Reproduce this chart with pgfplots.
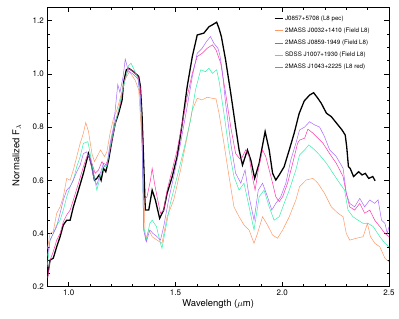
\documentclass[border=0pt]{standalone}
\usepackage{fontspec}
\setmainfont{TeX Gyre Heros}
\usepackage{pgfplots}
\pgfplotsset{compat=1.18}
\usetikzlibrary{calc}
\definecolor{corange}{HTML}{FF9966}
\definecolor{cpink}{HTML}{FF33AA}
\definecolor{cgreen}{HTML}{33EEAA}
\definecolor{cpurple}{HTML}{AA66FF}
\begin{document}
\begin{tikzpicture}
\begin{axis}[
  scale only axis,
  width=341.7bp, height=279.4bp,
  xmin=0.9, xmax=2.5, ymin=0.2, ymax=1.25,
  xtick={1.0,1.5,2.0,2.5}, minor x tick num=4,
  ytick={0.2,0.4,0.6,0.8,1.0,1.2}, minor y tick num=3,
  tick align=inside,
  major tick length=5bp, minor tick length=2.5bp,
  every tick/.style={black, line width=0.5pt},
  axis line style={line width=0.6pt},
  tick label style={font=\fontsize{8}{9}\selectfont},
  /pgf/number format/assume math mode=true,
  xticklabel style={/pgf/number format/.cd, fixed, fixed zerofill, precision=1},
  yticklabel style={/pgf/number format/.cd, fixed, fixed zerofill, precision=1},
  xlabel={Wavelength ($\mu$m)},
  ylabel={Normalized F$_\lambda$},
  label style={font=\fontsize{9.5}{11}\selectfont},
  xlabel style={at={(axis description cs:0.5,-0.062)}, anchor=center},
  ylabel style={at={(axis description cs:-0.0896,0.47)}, anchor=center},
  legend style={draw=none, fill=none, at={(rel axis cs:0.664,0.978)}, anchor=north west,
    font=\fontsize{6.2}{7}\selectfont, row sep=2.1pt, inner sep=0pt},
  legend cell align=left,
  legend image code/.code={\draw[#1, line width=0.7pt] (0bp,0bp) -- (8bp,0bp);},
]
\addplot[black, line width=1.3pt] coordinates {
(0.900,0.235) (0.913,0.300) (0.928,0.307) (0.944,0.350) (0.960,0.388) (0.975,0.432)
(0.991,0.450) (1.007,0.450) (1.022,0.500) (1.046,0.563) (1.069,0.626) (1.085,0.676)
(1.093,0.700) (1.109,0.650) (1.121,0.600) (1.132,0.607) (1.143,0.620) (1.152,0.600)
(1.163,0.645) (1.174,0.632) (1.187,0.676) (1.203,0.751) (1.218,0.814) (1.234,0.852)
(1.250,0.900) (1.258,0.970) (1.270,1.015) (1.281,1.021) (1.304,1.008) (1.328,0.990)
(1.336,0.952) (1.344,0.839) (1.351,0.676) (1.359,0.488) (1.375,0.488) (1.391,0.563)
(1.406,0.526) (1.426,0.457) (1.445,0.488) (1.461,0.551) (1.485,0.614) (1.508,0.689)
(1.532,0.814) (1.555,0.952) (1.579,1.065) (1.602,1.146) (1.620,1.150) (1.633,1.153)
(1.657,1.177) (1.673,1.184) (1.693,1.194) (1.704,1.171) (1.715,1.140) (1.735,1.052)
(1.759,0.927) (1.782,0.800) (1.798,0.714) (1.814,0.657) (1.837,0.714) (1.853,0.676)
(1.871,0.607) (1.892,0.664) (1.920,0.783) (1.939,0.714) (1.955,0.626) (1.970,0.601)
(1.986,0.620) (2.009,0.651) (2.033,0.714) (2.056,0.777) (2.079,0.850) (2.103,0.898)
(2.128,0.920) (2.147,0.929) (2.167,0.908) (2.183,0.889) (2.207,0.852) (2.230,0.839)
(2.255,0.814) (2.280,0.789) (2.295,0.770) (2.302,0.726) (2.310,0.651) (2.318,0.645)
(2.334,0.614) (2.358,0.632) (2.374,0.620) (2.389,0.626) (2.405,0.607) (2.424,0.614)
(2.435,0.598)};
\addlegendentry{J0857+5708 (L8 pec)}
\addplot[corange, line width=0.5pt] coordinates {
(0.900,0.340) (0.913,0.400) (0.928,0.407) (0.944,0.476) (0.960,0.500) (0.975,0.538)
(0.991,0.607) (1.007,0.600) (1.022,0.639) (1.038,0.689) (1.054,0.739) (1.069,0.777)
(1.080,0.817) (1.093,0.783) (1.109,0.700) (1.121,0.670) (1.137,0.695) (1.149,0.714)
(1.168,0.689) (1.179,0.707) (1.194,0.777) (1.210,0.833) (1.226,0.864) (1.245,0.920)
(1.265,0.980) (1.285,1.008) (1.300,0.990) (1.312,0.975) (1.328,0.940) (1.344,0.739)
(1.359,0.375) (1.375,0.413) (1.391,0.388) (1.414,0.375) (1.437,0.363) (1.461,0.463)
(1.492,0.526) (1.524,0.639) (1.555,0.764) (1.579,0.864) (1.602,0.908) (1.625,0.902)
(1.649,0.912) (1.673,0.908) (1.690,0.906) (1.704,0.852) (1.727,0.739) (1.751,0.614)
(1.774,0.500) (1.798,0.463) (1.821,0.432) (1.845,0.413) (1.868,0.363) (1.884,0.400)
(1.908,0.463) (1.931,0.432) (1.955,0.394) (1.978,0.382) (2.002,0.413) (2.033,0.463)
(2.064,0.526) (2.081,0.576) (2.112,0.601) (2.144,0.607) (2.167,0.589) (2.198,0.551)
(2.230,0.500) (2.261,0.476) (2.285,0.463) (2.300,0.400) (2.316,0.375) (2.347,0.382)
(2.379,0.388) (2.399,0.438) (2.413,0.388) (2.434,0.363) (2.457,0.350) (2.481,0.307)
(2.500,0.294)};
\addlegendentry{2MASS J0032+1410 (Field L8)}
\addplot[cpink, line width=0.5pt] coordinates {
(0.902,0.232) (0.913,0.300) (0.928,0.332) (0.944,0.375) (0.960,0.400) (0.975,0.444)
(0.991,0.470) (1.007,0.488) (1.022,0.526) (1.046,0.589) (1.069,0.651) (1.085,0.689)
(1.096,0.695) (1.109,0.664) (1.124,0.626) (1.140,0.639) (1.156,0.670) (1.168,0.651)
(1.184,0.676) (1.203,0.751) (1.220,0.820) (1.240,0.880) (1.260,0.970) (1.280,1.020)
(1.300,1.010) (1.325,0.990) (1.335,0.950) (1.343,0.800) (1.351,0.526) (1.367,0.538)
(1.383,0.600) (1.391,0.645) (1.402,0.589) (1.414,0.538) (1.430,0.476) (1.445,0.488)
(1.461,0.563) (1.485,0.639) (1.508,0.714) (1.532,0.814) (1.555,0.914) (1.579,1.002)
(1.602,1.065) (1.625,1.077) (1.649,1.096) (1.673,1.109) (1.690,1.090) (1.712,1.040)
(1.735,0.927) (1.759,0.800) (1.782,0.700) (1.806,0.676) (1.829,0.714) (1.845,0.689)
(1.860,0.614) (1.873,0.563) (1.888,0.639) (1.908,0.714) (1.923,0.689) (1.939,0.639)
(1.955,0.589) (1.970,0.538) (1.986,0.520) (2.002,0.538) (2.025,0.589) (2.049,0.664)
(2.072,0.739) (2.081,0.751) (2.105,0.758) (2.120,0.792) (2.144,0.777) (2.167,0.758)
(2.191,0.739) (2.222,0.700) (2.253,0.664) (2.285,0.614) (2.300,0.551) (2.316,0.500)
(2.339,0.488) (2.363,0.513) (2.386,0.476) (2.410,0.488) (2.433,0.450) (2.457,0.426)
(2.481,0.400) (2.500,0.388)};
\addlegendentry{2MASS J0859-1949 (Field L8)}
\addplot[cgreen, line width=0.5pt] coordinates {
(0.900,0.275) (0.913,0.375) (0.928,0.400) (0.944,0.432) (0.960,0.450) (0.975,0.488)
(0.991,0.538) (1.007,0.576) (1.022,0.601) (1.038,0.651) (1.054,0.689) (1.069,0.739)
(1.090,0.745) (1.101,0.700) (1.116,0.626) (1.132,0.563) (1.148,0.614) (1.163,0.651)
(1.179,0.651) (1.194,0.726) (1.218,0.814) (1.235,0.870) (1.250,0.930) (1.265,0.980)
(1.280,1.030) (1.292,1.040) (1.310,1.010) (1.325,0.980) (1.337,0.900) (1.345,0.700)
(1.351,0.426) (1.364,0.375) (1.380,0.438) (1.391,0.450) (1.411,0.426) (1.430,0.363)
(1.437,0.344) (1.453,0.413) (1.476,0.513) (1.508,0.614) (1.539,0.714) (1.571,0.827)
(1.594,0.940) (1.618,1.015) (1.641,1.008) (1.657,1.021) (1.673,1.002) (1.693,1.015)
(1.705,0.970) (1.727,0.852) (1.751,0.714) (1.774,0.614) (1.798,0.563) (1.821,0.589)
(1.845,0.500) (1.868,0.413) (1.892,0.538) (1.915,0.563) (1.939,0.500) (1.962,0.450)
(1.986,0.463) (2.009,0.513) (2.033,0.563) (2.064,0.639) (2.081,0.695) (2.105,0.714)
(2.125,0.733) (2.152,0.714) (2.175,0.695) (2.207,0.664) (2.238,0.626) (2.269,0.589)
(2.292,0.563) (2.308,0.488) (2.331,0.463) (2.355,0.450) (2.379,0.438) (2.402,0.438)
(2.426,0.426) (2.457,0.388) (2.481,0.363) (2.500,0.350)};
\addlegendentry{SDSS J1007+1930 (Field L8)}
\addplot[cpurple, line width=0.5pt] coordinates {
(0.900,0.313) (0.913,0.375) (0.928,0.400) (0.944,0.426) (0.960,0.476) (0.975,0.526)
(0.991,0.563) (1.007,0.576) (1.022,0.601) (1.038,0.632) (1.054,0.657) (1.069,0.700)
(1.085,0.707) (1.101,0.676) (1.116,0.614) (1.132,0.582) (1.148,0.626) (1.163,0.664)
(1.179,0.657) (1.194,0.739) (1.210,0.800) (1.230,0.960) (1.240,0.930) (1.255,0.990)
(1.265,1.055) (1.280,1.010) (1.300,1.000) (1.325,0.980) (1.337,0.900) (1.345,0.700)
(1.351,0.413) (1.364,0.369) (1.380,0.413) (1.395,0.400) (1.414,0.388) (1.430,0.375)
(1.445,0.426) (1.468,0.526) (1.492,0.614) (1.524,0.739) (1.555,0.877) (1.579,0.990)
(1.602,1.077) (1.625,1.096) (1.645,1.121) (1.664,1.140) (1.680,1.115) (1.699,1.096)
(1.708,1.070) (1.718,1.020) (1.735,0.889) (1.759,0.739) (1.782,0.626) (1.806,0.589)
(1.826,0.639) (1.845,0.538) (1.868,0.450) (1.888,0.563) (1.908,0.589) (1.931,0.538)
(1.951,0.488) (1.970,0.513) (1.993,0.538) (2.017,0.589) (2.040,0.676) (2.064,0.739)
(2.081,0.789) (2.105,0.800) (2.128,0.820) (2.152,0.808) (2.175,0.800) (2.198,0.764)
(2.222,0.714) (2.253,0.689) (2.285,0.645) (2.300,0.551) (2.316,0.513) (2.339,0.500)
(2.363,0.532) (2.386,0.500) (2.410,0.526) (2.433,0.513) (2.449,0.526) (2.465,0.450)
(2.481,0.438) (2.492,0.400) (2.500,0.426)};
\addlegendentry{2MASS J1043+2225 (L8 red)}
\end{axis}
\pgfresetboundingbox
\path ($(current axis.south west)+(-47.3bp,-32.3bp)$) rectangle ($(current axis.north east)+(10bp,7.3bp)$);
\end{tikzpicture}
\end{document}
